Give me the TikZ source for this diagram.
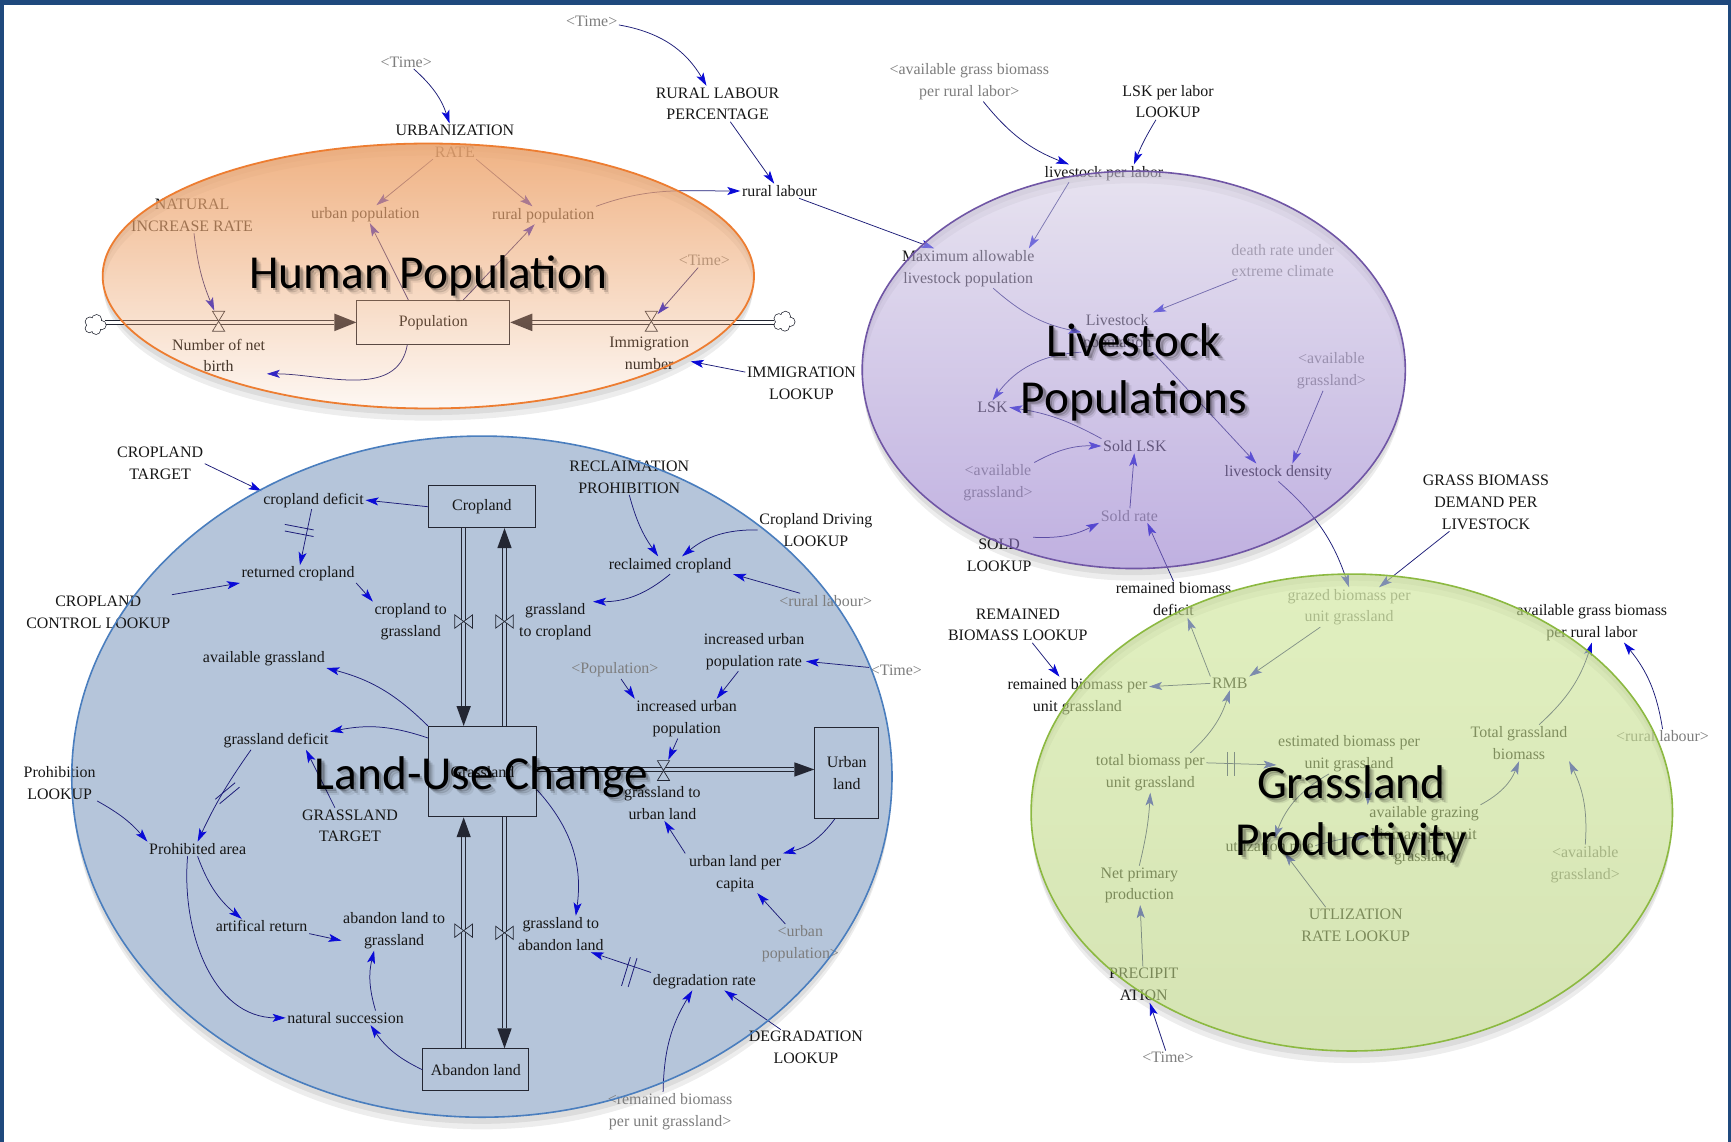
\documentclass[tikz,border=0pt]{standalone}
\usepackage{fontspec}
\setmainfont{Liberation Serif}
\newfontfamily\titlefont{Carlito}
\usetikzlibrary{arrows.meta,calc,fadings}

\definecolor{frame}{RGB}{31,73,125}
\definecolor{ink}{RGB}{22,22,22}
\definecolor{shadowtxt}{RGB}{125,125,125}
\definecolor{linkline}{RGB}{28,28,120}
\definecolor{linkhead}{RGB}{10,10,215}
\definecolor{pipecol}{RGB}{35,38,50}
\definecolor{landfill}{RGB}{181,197,218}
\definecolor{landedge}{RGB}{74,126,190}
\definecolor{popfill}{RGB}{238,168,115}
\definecolor{popedge}{RGB}{237,125,49}
\definecolor{lskedge}{RGB}{112,86,165}
\definecolor{lsktop}{RGB}{212,204,228}
\definecolor{lskbot}{RGB}{140,112,200}
\definecolor{grsedge}{RGB}{140,185,65}
\definecolor{grstop}{RGB}{205,230,150}
\definecolor{grsbot}{RGB}{186,210,130}

\tikzfading[name=popfade, top color=transparent!12, middle color=transparent!38, bottom color=transparent!92]

\begin{document}
\begin{tikzpicture}[x=1.104bp, y=1.104bp,
  v/.style={font=\fontsize{16}{22}\selectfont, align=center, inner sep=1.5bp, text=ink},
  sv/.style={v, text=shadowtxt},
  stock/.style={draw=pipecol, line width=0.9bp, inner sep=0, align=center,
    font=\fontsize{16}{22}\selectfont, text=ink},
  lnk/.style={draw=linkline, line width=0.75bp,
    -{Stealth[length=13bp, width=8bp, inset=3bp, color=linkhead]}},
  pipe/.style={draw=pipecol, line width=0.75bp, double distance=3.6bp, double=#1},
  pipehead/.style={fill=pipecol},
  valve/.style={draw=pipecol, line width=0.7bp},
  hgbox/.style={inner sep=0, minimum width=12bp, minimum height=21bp},
  btbox/.style={inner sep=0, minimum width=19bp, minimum height=14bp},
  cloudbox/.style={inner sep=0, minimum width=20bp, minimum height=18bp},
  dmark/.style={draw=linkline, line width=0.8bp},
  ttl/.style={font=\titlefont\fontsize{47.5}{57}\selectfont, align=center, inner sep=0},
  hourglass/.pic={\filldraw[valve, fill=white] (-5.5,9) -- (5.5,9) -- (0,0) -- cycle
    (-5.5,-9) -- (5.5,-9) -- (0,0) -- cycle;},
  hourglassland/.pic={\filldraw[valve, fill=landfill] (-5.5,9) -- (5.5,9) -- (0,0) -- cycle
    (-5.5,-9) -- (5.5,-9) -- (0,0) -- cycle;},
  bowtie/.pic={\filldraw[valve, fill=landfill] (-8,6) -- (-8,-6) -- (0,0) -- cycle
    (8,6) -- (8,-6) -- (0,0) -- cycle;},
  cloudpic/.pic={
    \draw[draw=pipecol, line width=1.4bp]
      (-4.5,2.5) circle[radius=4] (1.5,4.5) circle[radius=4.2] (6,-0.5) circle[radius=3.8]
      (1,-4.8) circle[radius=3.8] (-5,-3.5) circle[radius=3.5];
    \fill[white]
      (-4.5,2.5) circle[radius=4] (1.5,4.5) circle[radius=4.2] (6,-0.5) circle[radius=3.8]
      (1,-4.8) circle[radius=3.8] (-5,-3.5) circle[radius=3.5] (0,0) circle[radius=4];},
]
\useasboundingbox (0,0) rectangle (1568,-1034);
\fill[white] (0,0) rectangle (1568,-1034);

% ---------- soft shadows under the four groups ----------
\foreach \dy/\sx in {6/0, 11/1}{
  \fill[black, opacity=0.07, even odd rule]
    (388,-250-\dy) ellipse [x radius=295-\sx, y radius=120]
    (388,-250) ellipse [x radius=295, y radius=120];
  \fill[black, opacity=0.07, even odd rule]
    (1027,-335-\dy) ellipse [x radius=246-\sx, y radius=180]
    (1027,-335) ellipse [x radius=246, y radius=180];
  \fill[black, opacity=0.07, even odd rule]
    (436.5,-703.5-\dy) ellipse [x radius=371.5-\sx, y radius=308.5]
    (436.5,-703.5) ellipse [x radius=371.5, y radius=308.5];
  \fill[black, opacity=0.07, even odd rule]
    (1224.5,-736-\dy) ellipse [x radius=290.5-\sx, y radius=216]
    (1224.5,-736) ellipse [x radius=290.5, y radius=216];
}

% land-use group backdrop
\fill[landfill] (436.5,-703.5) ellipse [x radius=371.5, y radius=308.5];

% ================= Human population =================
\node[sv] (timeA) at (368,-56) {<Time>};
\node[v] (urbrate) at (412,-128) {URBANIZATION\\RATE};
\node[sv] (timeB) at (536,-19) {<Time>};
\node[v] (rlp) at (650,-94) {RURAL LABOUR\\PERCENTAGE};
\node[v] (rurallab) at (706,-173) {rural labour};
\node[v] (urbanpop) at (331,-194) {urban population};
\node[v] (ruralpop) at (492,-195) {rural population};
\node[v] (natinc) at (174,-195) {NATURAL\\INCREASE RATE};
\node[stock, minimum width=153bp, minimum height=44bp] (population) at (392.5,-292) {Population};
\node[v] (netbirth) at (198,-322) {Number of net\\birth};
\node[v] (immnum) at (588,-320) {Immigration\\number};
\node[sv] (timeC) at (638,-236) {<Time>};
\node[v] (immlookup) at (726,-347) {IMMIGRATION\\LOOKUP};
\node[cloudbox] (cl1) at (86,-294) {};
\node[cloudbox] (cl2) at (710,-291) {};
\node[hgbox] (v1) at (198,-291) {};
\node[hgbox] (v2) at (590,-291) {};
\coordinate (py) at (0,-292);

\draw[pipe=white] (cl1.east |- py) -- ($(population.west |- py)+(-20,0)$);
\fill[pipehead] (population.west |- py) -- ++(-20,8) -- ++(0,-16) -- cycle;
\draw[pipe=white] (cl2.west |- py) -- ($(population.east |- py)+(20,0)$);
\fill[pipehead] (population.east |- py) -- ++(20,8) -- ++(0,-16) -- cycle;
\pic at (cl1) {cloudpic};
\pic at (cl2) {cloudpic};
\pic at (v1) {hourglass};
\pic at (v2) {hourglass};

\draw[lnk] (timeA) to[bend left=15] (urbrate);
\draw[lnk] (timeB) to[bend left=25] (rlp);
\draw[lnk] (rlp) -- (rurallab);
\draw[lnk] (ruralpop.north east) to[out=20, in=180] (rurallab.west);
\draw[lnk] (urbrate) -- (urbanpop);
\draw[lnk] (urbrate) -- (ruralpop);
\draw[lnk] ([xshift=-25bp]population.north) -- (urbanpop);
\draw[lnk] ([xshift=30bp]population.north) -- (ruralpop);
\draw[lnk] (natinc) to[bend right=8] (v1);
\draw[lnk] (timeC) -- (v2);
\draw[lnk] (immlookup) -- (immnum);
\draw[lnk] ([xshift=-26bp]population.south) to[out=-100, in=0] (netbirth.south east);

% ================= Livestock populations =================
\node[sv] (agbprA) at (878,-74) {<available grass biomass\\per rural labor>};
\node[v] (lsklookup) at (1058,-92) {LSK per labor\\LOOKUP};
\node[v] (lpl) at (1000,-157) {livestock per labor};
\node[v] (maxlsk) at (877,-243) {Maximum allowable\\livestock population};
\node[sv] (death) at (1162,-236) {death rate under\\extreme climate};
\node[v] (livestock) at (1012,-301) {Livestock\\population};
\node[v] (lsk) at (899,-369) {LSK};
\node[v] (soldlsk) at (1028,-404) {Sold LSK};
\node[sv] (avgrA) at (1206,-336) {<available\\grassland>};
\node[v] (density) at (1158,-428) {livestock density};
\node[sv] (avgrB) at (904,-437) {<available\\grassland>};
\node[sv] (soldrate) at (1023,-467) {Sold rate};
\node[v] (soldlookup) at (905,-503) {SOLD\\LOOKUP};
\node[v] (rbdef) at (1063,-543) {remained biomass\\deficit};
\node[v] (gbd) at (1346,-455) {GRASS BIOMASS\\DEMAND PER\\LIVESTOCK};

\draw[lnk] (rurallab) -- ($(maxlsk.north west)!0.25!(maxlsk.north east)$);
\draw[lnk] (agbprA) to[bend right=15] ([xshift=-35bp]lpl.north);
\draw[lnk] (lsklookup) to[bend right=5] ([xshift=30bp]lpl.north);
\draw[lnk] ([xshift=-35bp]lpl.south) -- ($(maxlsk.north)+(55,0)$);
\draw[lnk] ([xshift=25bp]maxlsk.south) to[bend right=15] (livestock.west);
\draw[lnk] (death) -- (livestock.north east);
\draw[lnk] (livestock.south west) to[bend right=25] (lsk.north);
\draw[lnk] (soldlsk.north west) to[bend right=10] (lsk.east);
\draw[lnk] (livestock.south east) -- ([xshift=-22bp]density.north);
\draw[lnk] (avgrA) -- ([xshift=14bp]density.north);
\draw[lnk] (avgrB.north east) to[bend left=15] (soldlsk.west);
\draw[lnk] (soldrate) -- (soldlsk);
\draw[lnk] (soldlookup.north east) to[bend right=15] (soldrate.south west);
\draw[lnk] (rbdef.north) -- ([xshift=18bp]soldrate.south);

% ================= Grassland productivity =================
\node[sv] (grazed) at (1222,-550) {grazed biomass per\\unit grassland};
\node[v] (rmb) at (1114,-619) {RMB};
\node[v] (rbpu) at (976,-631) {remained biomass per\\unit grassland};
\node[v] (rbl) at (922,-566) {REMAINED\\BIOMASS LOOKUP};
\node[v] (totbio) at (1042,-700) {total biomass per\\unit grassland};
\node[v] (estbio) at (1222,-683) {estimated biomass per\\unit grassland};
\node[v] (util) at (1150,-766) {utlization rate};
\node[v] (availgraz) at (1290,-757) {available grazing\\biomass per unit\\grassland};
\node[v] (totalgb) at (1376,-673) {Total grassland\\biomass};
\node[sv] (avgrC) at (1436,-783) {<available\\grassland>};
\node[v] (agbprB) at (1442,-564) {available grass biomass\\per rural labor};
\node[sv] (rurallabB) at (1506,-667) {<rural labour>};
\node[v] (utillookup) at (1228,-838) {UTLIZATION\\RATE LOOKUP};
\node[v] (npp) at (1032,-802) {Net primary\\production};
\node[v] (precip) at (1036,-892) {PRECIPIT\\ATION};
\node[sv] (timeD) at (1058,-958) {<Time>};

\draw[lnk] (density.south) to[bend left=15] (grazed.north);
\draw[lnk] (gbd) -- ([xshift=30bp]grazed.north);
\draw[lnk] (grazed) -- (rmb.north east);
\draw[lnk] (rmb.north west) -- ([xshift=14bp]rbdef.south);
\draw[lnk] (rmb.west) -- ($(rbpu.east)!0.5!(rbpu.north east)$);
\draw[lnk] (rbl) -- ([xshift=-18bp]rbpu.north);
\draw[lnk] ([xshift=40bp]totbio.north) to[bend right=15] (rmb.south);
\draw[lnk] ($(totbio.east)!0.5!(totbio.north east)$) -- ($(estbio.south west)!0.45!(estbio.west)$);
\draw[lnk] ([xshift=20bp]estbio.south) -- (availgraz.north west);
\draw[lnk] ([xshift=-20bp]estbio.south) to[bend right=20] ([xshift=5bp]util.north);
\draw[lnk] (util.east) to[bend left=5] (availgraz.west);
\draw[lnk] ([xshift=-30bp]utillookup.north) -- ([xshift=15bp]util.south);
\draw[lnk] (npp.north) to[bend right=5] (totbio.south);
\draw[lnk] (precip) -- (npp);
\draw[lnk] (timeD) -- (precip);
\draw[lnk] (availgraz.north east) to[bend right=20] (totalgb.south);
\draw[lnk] (avgrC.north) to[bend right=15] (totalgb.south east);
\draw[lnk] ([xshift=20bp]totalgb.north) to[bend right=15] (agbprB.south);
\draw[lnk] (rurallabB.north) to[bend right=15] ([xshift=32bp]agbprB.south);
% delay mark
\draw[dmark] (1112,-681) -- (1112,-703) (1118,-681) -- (1118,-703);

% ================= Land-use change =================
\node[v] (croptarget) at (145,-420) {CROPLAND\\TARGET};
\node[v] (cropdef) at (284,-453) {cropland deficit};
\node[stock, minimum width=107bp, minimum height=42bp] (cropland) at (436.5,-459) {Cropland};
\node[v] (retcrop) at (270,-520) {returned cropland};
\node[v] (cropctl) at (89,-555) {CROPLAND\\CONTROL LOOKUP};
\node[v] (croptog) at (372,-563) {cropland to\\grassland};
\node[v] (gtocrop) at (503,-563) {grassland\\to cropland};
\node[v] (reclprohib) at (570,-432) {RECLAIMATION\\PROHIBITION};
\node[v] (cropdrive) at (739,-480) {Cropland Driving\\LOOKUP};
\node[v] (reclaimed) at (607,-512) {reclaimed cropland};
\node[sv] (rurallabC) at (748,-544) {<rural labour>};
\node[v] (incrate) at (683,-590) {increased urban\\population rate};
\node[sv] (timeE) at (812,-607) {<Time>};
\node[sv] (popshadow) at (557,-607) {<Population>};
\node[v] (incpop) at (622,-651) {increased urban\\population};
\node[v] (availgrass) at (239,-597) {available grassland};
\node[v] (grassdef) at (250,-671) {grassland deficit};
\node[stock, minimum width=108bp, minimum height=90.5bp] (grassland) at (437,-699) {Grassland};
\node[v] (grasstarget) at (317,-748) {GRASSLAND\\TARGET};
\node[v] (prohlookup) at (54,-709) {Prohibition\\LOOKUP};
\node[v] (prohibited) at (179,-769) {Prohibited area};
\node[v] (artret) at (237,-839) {artifical return};
\node[v] (abtog) at (357,-843) {abandon land to\\grassland};
\node[v] (natsucc) at (313,-922) {natural succession};
\node[stock, minimum width=106bp, minimum height=42bp] (abandon) at (431,-969) {Abandon land};
\node[v] (gtoab) at (508,-846) {grassland to\\abandon land};
\node[v] (degrad) at (638,-889) {degradation rate};
\node[v] (deglookup) at (730,-949) {DEGRADATION\\LOOKUP};
\node[sv] (rbpuB) at (607,-1007) {<remained biomass\\per unit grassland>};
\node[stock, minimum width=64bp, minimum height=91.6bp] (urban) at (767,-700) {Urban\\land};
\node[v] (gtourban) at (600,-727) {grassland to\\urban land};
\node[v] (ulpc) at (666,-791) {urban land per\\capita};
\node[sv] (urbpop) at (725,-855) {<urban\\population>};
\node[btbox] (vA) at (420,-563) {};
\node[btbox] (vB) at (457,-563) {};
\node[btbox] (vC) at (420,-843) {};
\node[btbox] (vD) at (457,-845) {};
\node[hgbox] (v3) at (601,-698) {};
\coordinate (pa) at (420,0);
\coordinate (pb) at (457,0);
\coordinate (ph) at (0,-697);

% material flows between the land stocks
\draw[pipe=landfill] (pa |- cropland.south) -- ($(pa |- grassland.north)+(0,18)$);
\fill[pipehead] (pa |- grassland.north) -- ++(-6.5,18) -- ++(13,0) -- cycle;
\draw[pipe=landfill] (pb |- grassland.north) -- ($(pb |- cropland.south)+(0,-18)$);
\fill[pipehead] (pb |- cropland.south) -- ++(-6.5,-18) -- ++(13,0) -- cycle;
\draw[pipe=landfill] (pa |- abandon.north) -- ($(pa |- grassland.south)+(0,-18)$);
\fill[pipehead] (pa |- grassland.south) -- ++(-6.5,-18) -- ++(13,0) -- cycle;
\draw[pipe=landfill] (pb |- grassland.south) -- ($(pb |- abandon.north)+(0,18)$);
\fill[pipehead] (pb |- abandon.north) -- ++(-6.5,18) -- ++(13,0) -- cycle;
\draw[pipe=landfill] (grassland.east |- ph) -- ($(urban.west |- ph)+(-18,0)$);
\fill[pipehead] (urban.west |- ph) -- ++(-18,6.5) -- ++(0,-13) -- cycle;
\pic at (vA) {bowtie};
\pic at (vB) {bowtie};
\pic at (vC) {bowtie};
\pic at (vD) {bowtie};
\pic at (v3) {hourglassland};

\draw[lnk] (croptarget.east) -- (cropdef.north west);
\draw[lnk] (cropland.west) -- (cropdef.east);
\draw[lnk] (cropdef) -- (retcrop);
\draw[lnk] (cropctl.north east) -- (retcrop.south west);
\draw[lnk] (retcrop.south east) -- (croptog.north west);
\draw[lnk] (reclprohib.south) to[bend right=10] ([xshift=-12bp]reclaimed.north);
\draw[lnk] (cropdrive.west) to[bend right=20] ([xshift=12bp]reclaimed.north);
\draw[lnk] (rurallabC) -- (reclaimed.south east);
\draw[lnk] (reclaimed.south) to[bend left=20] (gtocrop.north east);
\draw[lnk] (timeE) -- ($(incrate.east)!0.5!(incrate.south east)$);
\draw[lnk] (popshadow) -- (incpop.north west);
\draw[lnk] (incrate) -- ([xshift=30bp]incpop.north);
\draw[lnk] (incpop) -- (v3);
\draw[lnk] (grassland.north west) to[bend right=15] (availgrass.south east);
\draw[lnk] ([yshift=-12bp]grassland.north west) to[bend right=15] (grassdef.north east);
\draw[lnk] ([xshift=-15bp]grasstarget.north) -- ([xshift=30bp]grassdef.south);
\draw[lnk] ([xshift=-25bp]grassdef.south) to[bend right=5] (prohibited.north);
\draw[lnk] (prohlookup.south east) to[bend left=10] (prohibited.north west);
\draw[lnk] (prohibited.south) to[bend right=15] ([xshift=-20bp]artret.north);
\draw[lnk] (artret.south east) -- ($(abtog.west)!0.5!(abtog.south west)$);
\draw[lnk] ([xshift=-10bp]prohibited.south) to[out=-95, in=180] (natsucc.west);
\draw[lnk] (abandon.west) to[bend left=15] ([xshift=25bp]natsucc.south);
\draw[lnk] ([xshift=30bp]natsucc.north) to[bend left=15] ([xshift=-20bp]abtog.south);
\draw[lnk] ([yshift=-18bp]grassland.east) to[bend left=25] ([xshift=15bp]gtoab.north);
\draw[lnk] (degrad.north west) -- ([xshift=30bp]gtoab.south);
\draw[lnk] ([xshift=-25bp]deglookup.north) -- ([xshift=20bp]degrad.south);
\draw[lnk] ([xshift=-7bp]rbpuB.north) to[bend left=15] ([xshift=-12bp]degrad.south);
\draw[lnk] ([xshift=-12bp]urban.south) to[bend left=20] (ulpc.north east);
\draw[lnk] ([xshift=-50bp]ulpc.north) -- ([xshift=2bp]gtourban.south);
\draw[lnk] ([xshift=-15bp]urbpop.north) -- ([xshift=22bp]ulpc.south);
% delay marks
\draw[dmark] (258,-475) -- (284,-480) (258,-481) -- (284,-486);
\draw[dmark] (195,-724) -- (213,-709) (199,-728) -- (217,-713);
\draw[dmark] (563,-893) -- (571,-867) (569,-894) -- (577,-868);

% ---------- group outlines and translucent fills ----------
\draw[landedge, line width=1.6bp] (436.5,-703.5) ellipse [x radius=371.5, y radius=308.5];
\fill[popfill, path fading=popfade, fit fading=true] (388,-250) ellipse [x radius=295, y radius=120];
\draw[popedge, line width=1.8bp] (388,-250) ellipse [x radius=295, y radius=120];
\shade[top color=lsktop, bottom color=lskbot, opacity=0.55] (1027,-335) ellipse [x radius=246, y radius=180];
\draw[lskedge, line width=1.6bp] (1027,-335) ellipse [x radius=246, y radius=180];
\shade[top color=grstop, bottom color=grsbot, opacity=0.6] (1224.5,-736) ellipse [x radius=290.5, y radius=216];
\draw[grsedge, line width=1.6bp] (1224.5,-736) ellipse [x radius=290.5, y radius=216];

% ---------- group titles with soft shadow ----------
\foreach \dx/\dy/\op [count=\k] in {2/-2/0.22, 3.5/-3.5/0.14, 5/-5/0.07}{
  \node[ttl, text=black, opacity=\op] (hs\k) at (388+\dx,-250+\dy) {Human Population};
  \node[ttl, text=black, opacity=\op] (ls\k) at (1027+\dx,-337+\dy) {Livestock\\Populations};
  \node[ttl, text=black, opacity=\op] (us\k) at (436+\dx,-704+\dy) {Land-Use Change};
  \node[ttl, text=black, opacity=\op] (gs\k) at (1224+\dx,-737.5+\dy) {Grassland\\Productivity};
}
\node[ttl] (thuman) at (388,-250) {Human Population};
\node[ttl] (tlsk) at (1027,-337) {Livestock\\Populations};
\node[ttl] (tland) at (436,-704) {Land-Use Change};
\node[ttl] (tgrass) at (1224,-737.5) {Grassland\\Productivity};

% ---------- slide frame ----------
\fill[frame] (0,0) rectangle (1568,-4.5);
\fill[frame] (0,0) rectangle (4,-1034);
\fill[frame] (1565,0) rectangle (1568,-1034);
\end{tikzpicture}
\end{document}
